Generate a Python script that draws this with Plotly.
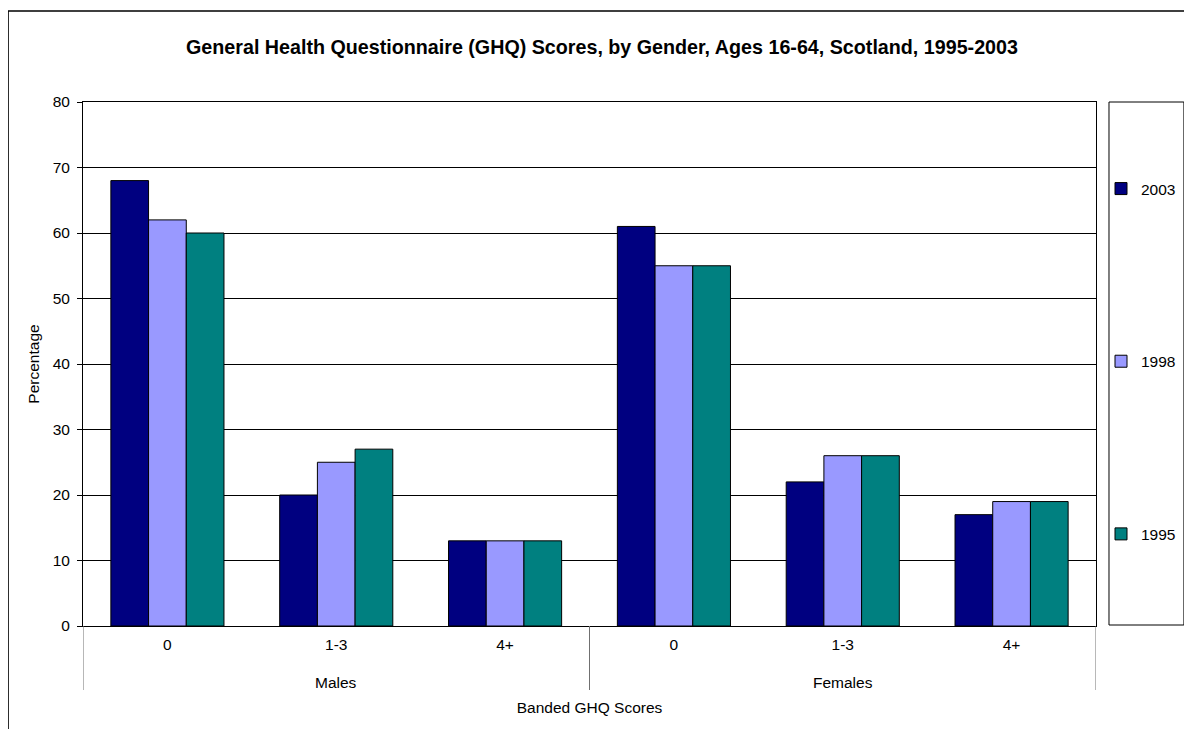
import plotly.graph_objects as go

genders = ["Males", "Males", "Males", "Females", "Females", "Females"]
bands = ["0", "1-3", "4+", "0", "1-3", "4+"]
years = ["2003", "1998", "1995"]
values_2003 = [68, 20, 13, 61, 22, 17]
values_1998 = [62, 25, 13, 55, 26, 19]
values_1995 = [60, 27, 13, 55, 26, 19]
colors = ["#000080", "#9999FF", "#008080"]

series = [values_2003, values_1998, values_1995]
xpos = list(range(len(bands)))

fig = go.Figure()
for yr, vals, col in zip(years, series, colors):
    fig.add_trace(go.Bar(
        x=xpos, y=vals, name=yr, legendgroup=yr,
        customdata=[[g, b] for g, b in zip(genders, bands)],
        hovertemplate="%{customdata[0]}, %{customdata[1]}: %{y}<extra>" + yr + "</extra>",
        marker=dict(color=col, line=dict(color="#000000", width=1)),
    ))

OFF = 8  # page body margin offset
W, H = 1184, 721
# plot area in screen pixels
SL, SR, ST, SB = 83, 1097, 102, 626
L, R, T, B = SL - OFF, SR - OFF, ST - OFF, SB - OFF
pw, ph = R - L, B - T

def px(xs):
    return (xs - OFF - L) / pw

def py(ys):
    return (B - (ys - OFF)) / ph

font = "Liberation Sans, Arial, sans-serif"
FS = 15.5

# group labels and dividers derived from the category data
groups = []
for i, g in enumerate(genders):
    if not groups or groups[-1][0] != g:
        groups.append([g, i, i])
    else:
        groups[-1][2] = i

annotations = []
shapes = [
    dict(type="rect", xref="paper", yref="paper",
         x0=px(8), x1=px(1260), y0=py(800), y1=py(11),
         line=dict(color="#000000", width=1.5), fillcolor="rgba(0,0,0,0)", layer="below"),
    dict(type="rect", xref="paper", yref="paper",
         x0=px(1110), x1=px(1185), y0=py(625), y1=py(102),
         line=dict(color="#000000", width=1), fillcolor="rgba(0,0,0,0)", layer="below"),
]
bounds = set()
for g, i0, i1 in groups:
    annotations.append(dict(
        x=(i0 + i1) / 2, xref="x", y=py(682), yref="paper",
        text=g, showarrow=False, xanchor="center", yanchor="middle",
        font=dict(size=FS, family=font, color="#000000"),
    ))
    bounds.add(i0 - 0.5)
    bounds.add(i1 + 0.5)
for bx in sorted(bounds):
    shapes.append(dict(type="line", xref="x", yref="paper",
                       x0=bx, x1=bx, y0=0, y1=py(690),
                       line=dict(color="#707070", width=1)))

fig.update_layout(
    width=W, height=H,
    margin=dict(l=L, r=W - R, t=T, b=H - B),
    paper_bgcolor="white", plot_bgcolor="white",
    font=dict(family=font, size=FS, color="#000000"),
    barmode="group", bargap=0.33, bargroupgap=0,
    title=dict(
        text="<b>General Health Questionnaire (GHQ) Scores, by Gender, Ages 16-64, Scotland, 1995-2003</b>",
        x=(602 - OFF) / W, xanchor="center", y=1 - (47 - OFF) / H, yanchor="middle",
        font=dict(family=font, size=19.7, color="#000000"),
    ),
    xaxis=dict(
        range=[-0.5, len(bands) - 0.5], tickvals=xpos, ticktext=bands,
        showline=True, linecolor="#000000", linewidth=1,
        mirror=True, ticks="", showgrid=False, zeroline=False,
        tickfont=dict(size=FS), ticklabelstandoff=4,
        title=dict(text="Banded GHQ Scores", font=dict(size=FS), standoff=50),
    ),
    yaxis=dict(
        range=[0, 80], dtick=10, showline=True, linecolor="#000000",
        linewidth=1, mirror=True, ticks="outside", ticklen=5,
        tickcolor="#000000", showgrid=True, gridcolor="#000000", gridwidth=1,
        zeroline=False, tickfont=dict(size=FS), ticklabelstandoff=4,
        title=dict(text="Percentage", font=dict(size=FS), standoff=9),
    ),
    legend=dict(
        x=px(1101), xanchor="left", y=py(172), yanchor="top",
        traceorder="grouped", tracegroupgap=149.5,
        bgcolor="rgba(0,0,0,0)", borderwidth=0,
        font=dict(size=FS),
    ),
    annotations=annotations,
    shapes=shapes,
)

fig.write_html("out.html")
